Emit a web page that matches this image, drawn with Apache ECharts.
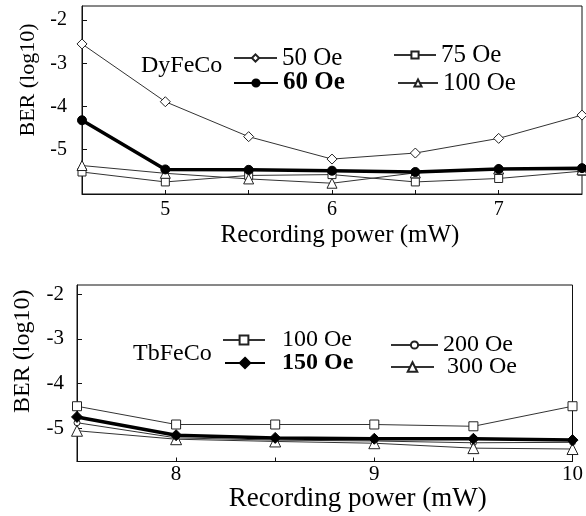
<!DOCTYPE html>
<html><head><meta charset="utf-8">
<script src="https://cdn.jsdelivr.net/npm/echarts@6/dist/echarts.min.js"></script>
<style>html,body{margin:0;padding:0;background:#fff}#c{width:586px;height:516px}</style>
</head><body><div id="c"></div>
<script>
// ---- data ----
const topPower = [4.5, 5, 5.5, 6, 6.5, 7, 7.5];
const dy50  = [-2.55, -3.89, -4.70, -5.22, -5.08, -4.74, -4.20];
const dy60  = [-4.32, -5.46, -5.47, -5.49, -5.52, -5.45, -5.43];
const dy75  = [-5.52, -5.75, -5.60, -5.58, -5.75, -5.67, -5.50];
const dy100 = [-5.37, -5.55, -5.68, -5.78, -5.54, -5.45, -5.47];
const botPower = [7.5, 8, 8.5, 9, 9.5, 10];
const tb100 = [-4.51, -4.92, -4.92, -4.92, -4.96, -4.51];
const tb150 = [-4.75, -5.16, -5.22, -5.24, -5.24, -5.27];
const tb200 = [-4.88, -5.22, -5.27, -5.29, -5.33, -5.32];
const tb300 = [-5.06, -5.25, -5.30, -5.34, -5.45, -5.47];
const topXTicks = [5, 5.5, 6, 6.5, 7];
const topXLabels = [5, 6, 7];
const botXTicks = [8, 8.5, 9, 9.5];
const botXLabels = [8, 9, 10];
const yTickVals = [-2, -3, -4, -5];

const F = '"Liberation Serif","Times New Roman",serif';
const INK = '#111';

function pairs(xs, ys) { return xs.map((x, i) => [x, ys[i]]); }
function ser(name, idx, xs, ys, symbol, size, filled, width) {
  return {
    name: name, type: 'line', xAxisIndex: idx, yAxisIndex: idx,
    data: pairs(xs, ys), symbol: symbol, symbolSize: size, clip: false,
    showAllSymbol: true, animation: false,
    lineStyle: { color: filled ? '#000' : '#333', width: width },
    itemStyle: filled ? { color: '#000', borderColor: '#000', borderWidth: 1 }
                      : { color: '#fff', borderColor: '#222', borderWidth: 1 },
    emphasis: { disabled: true }
  };
}
function xAx(idx, min, max, ticks, labels, fs, margin, name, nfs, gap, shift) {
  return {
    gridIndex: idx, type: 'value', min: min, max: max,
    axisLine: { show: true, lineStyle: { color: INK, width: 1 } },
    axisTick: { show: true, inside: true, length: 4, customValues: ticks, lineStyle: { color: INK } },
    axisLabel: { customValues: labels, margin: margin, fontSize: fs, fontFamily: F, color: '#000' },
    splitLine: { show: false },
    name: name, nameLocation: 'middle', nameGap: gap,
    nameTextStyle: { fontFamily: F, fontSize: nfs, color: '#000', padding: [0, 0, 0, shift] }
  };
}
function yAx(idx, min, max, fs, margin, nfs, gap, shift) {
  return {
    gridIndex: idx, type: 'value', min: min, max: max,
    axisLine: { show: true, lineStyle: { color: INK, width: 1 } },
    axisTick: { show: true, inside: true, length: 5, customValues: yTickVals, lineStyle: { color: INK } },
    axisLabel: { customValues: yTickVals, margin: margin, fontSize: fs, fontFamily: F, color: '#000' },
    splitLine: { show: false },
    name: 'BER (log10)', nameLocation: 'middle', nameGap: gap,
    nameTextStyle: { fontFamily: F, fontSize: nfs, color: '#000', padding: [0, 0, 0, shift] }
  };
}
function leg(name, left, cy, iw, ih, bold, fs, padL) {
  return {
    data: [{ name: name, textStyle: { fontWeight: bold ? 'bold' : 'normal' } }],
    left: left, top: cy - fs / 2, padding: 0, itemWidth: iw, itemHeight: ih,
    selectedMode: false,
    formatter: n => n.replace(/^\S+ /, ''),
    textStyle: { fontFamily: F, fontSize: fs, color: '#000', padding: [0, 0, 0, padL || 0] }
  };
}

const chart = echarts.init(document.getElementById('c'), null, { renderer: 'canvas' });
chart.setOption({
  animation: false,
  backgroundColor: '#fff',
  title: [
    { text: 'DyFeCo', left: 141, top: 54, padding: 0,
      textStyle: { fontFamily: F, fontSize: 24, fontWeight: 'normal', color: '#000' } },
    { text: 'TbFeCo', left: 133, top: 342, padding: 0,
      textStyle: { fontFamily: F, fontSize: 24, fontWeight: 'normal', color: '#000' } }
  ],
  grid: [
    { left: 82, top: 6, width: 500, height: 188, show: true, borderColor: INK, borderWidth: 1 },
    { left: 77, top: 285, width: 502, height: 176.5, show: true, borderColor: INK, borderWidth: 1 }
  ],
  xAxis: [
    xAx(0, 4.5, 7.5, topXTicks, topXLabels, 20, 6, 'Recording power (mW)', 25, 29, 16),
    xAx(1, 7.5, 10, botXTicks, botXLabels, 21, 2, 'Recording power (mW)', 27, 19, 66)
  ],
  yAxis: [
    yAx(0, -6.03, -1.67, 20, 15, 22, 43, 40),
    yAx(1, -5.75, -1.79, 21, 13, 24, 42, 44)
  ],
  legend: [
    leg('DyFeCo 50 Oe', 233, 58, 43, 9, false, 25),
    leg('DyFeCo 60 Oe', 233, 83, 44, 9, true, 25),
    leg('DyFeCo 75 Oe', 393, 55, 42, 9, false, 25),
    leg('DyFeCo 100 Oe', 397, 83, 40, 9, false, 25),
    leg('TbFeCo 100 Oe', 222, 340, 42, 11, false, 24, 12),
    leg('TbFeCo 150 Oe', 224, 363, 40, 13, true, 24, 12),
    leg('TbFeCo 200 Oe', 390, 345, 47, 9, false, 24),
    leg('TbFeCo 300 Oe', 390, 367, 43, 12, false, 24, 8)
  ],
  series: [
    ser('DyFeCo 50 Oe', 0, topPower, dy50, 'diamond', 10, false, 1),
    ser('DyFeCo 75 Oe', 0, topPower, dy75, 'rect', 8, false, 1),
    ser('DyFeCo 100 Oe', 0, topPower, dy100, 'triangle', 10, false, 1),
    ser('DyFeCo 60 Oe', 0, topPower, dy60, 'circle', 9, true, 3.5),
    ser('TbFeCo 100 Oe', 1, botPower, tb100, 'rect', 9, false, 1),
    ser('TbFeCo 200 Oe', 1, botPower, tb200, 'circle', 6, false, 1),
    ser('TbFeCo 300 Oe', 1, botPower, tb300, 'triangle', 11, false, 1),
    ser('TbFeCo 150 Oe', 1, botPower, tb150, 'diamond', 11, true, 3.5)
  ]
});
</script>
</body></html>
